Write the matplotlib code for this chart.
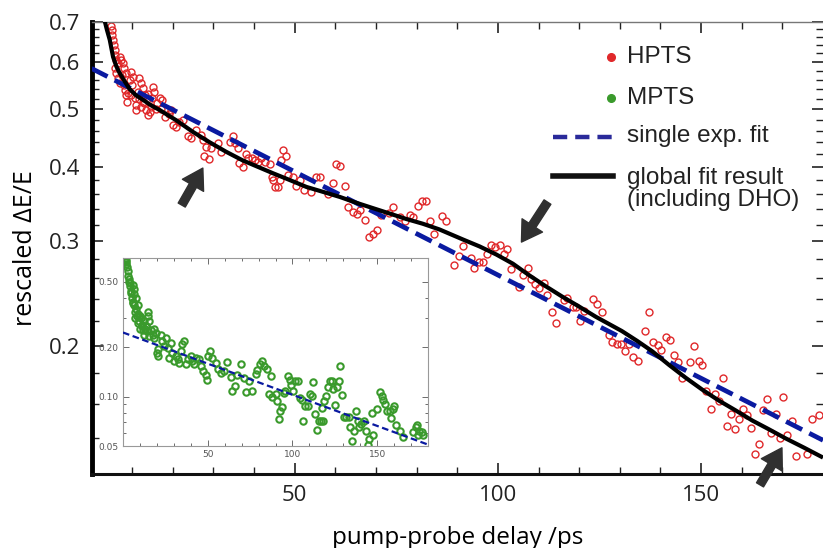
import numpy as np
import matplotlib
matplotlib.use("Agg")
import matplotlib.pyplot as plt
from matplotlib.lines import Line2D
from matplotlib.ticker import FixedLocator, FixedFormatter, NullFormatter

# HPTS data (main panel)
hpts_x = [4.7, 5.0, 5.1, 5.3, 5.5, 5.7, 5.9, 6.1, 6.5, 6.9, 7.3, 7.7, 7.9, 5.7, 6.1, 6.5,
          8.6, 9.8, 10.2, 9.4, 8.2, 8.6, 8.7, 9.8, 10.6, 10.9, 11.4, 11.8, 12.2, 12.7,
          13.1, 12.7, 12.2, 13.5, 13.9, 14.3, 14.7, 15.1, 15.3, 14.9, 16.8, 17.4, 15.9,
          18.2, 19.6, 20.0, 20.8, 22.5, 23.7, 24.5, 25.7, 27.0, 27.4, 28.2, 29.4, 27.8,
          28.9, 31.1, 31.9, 34.0, 34.8, 35.2, 36.0, 36.4, 37.3, 38.0, 38.5, 39.4, 40.2,
          41.0, 41.8, 42.6, 43.9, 44.3, 44.7, 45.1, 45.9, 46.3, 46.7, 47.1, 47.8, 48.4,
          49.6, 50.4, 51.2, 52.2, 54.1, 55.3, 56.3, 58.2, 59.4, 60.2, 61.2, 62.3, 63.1,
          64.3, 65.3, 66.1, 67.2, 68.3, 69.2, 70.2, 71.3, 73.2, 74.2, 75.8, 77.2, 78.3,
          79.2, 80.3, 81.4, 82.4, 83.3, 84.4, 86.3, 87.3, 89.3, 90.5, 91.4, 93.4, 94.2,
          95.3, 96.3, 97.2, 98.3, 99.4, 100.4, 101.4, 102.3, 103.2, 105.1, 106.1, 107.3,
          108.2, 109.2, 110.2, 111.4, 112.2, 113.3, 114.3, 116.3, 117.1, 118.4, 119.2,
          120.3, 121.3, 123.3, 124.3, 125.6, 127.4, 128.2, 129.3, 130.3, 131.3, 132.3,
          133.3, 134.4, 136.2, 137.2, 138.2, 139.3, 140.2, 141.3, 142.3, 143.4, 144.3,
          145.4, 147.3, 148.3, 149.4, 150.3, 151.3, 152.4, 153.4, 154.3, 155.4, 156.3,
          157.3, 158.3, 159.3, 160.3, 161.2, 162.4, 163.3, 164.3, 165.3, 166.3, 167.3,
          168.4, 169.3, 170.2, 171.2, 172.3, 173.3, 176.1, 177.2, 179.0,
          7.0, 7.5, 8.0, 9.0, 10.0, 11.0, 11.6, 13.0, 14.0, 16.2, 17.0, 19.0, 21.5]
hpts_y = [0.690, 0.679, 0.666, 0.653, 0.640, 0.628, 0.616, 0.605, 0.598, 0.612, 0.605,
          0.598, 0.587, 0.587, 0.575, 0.564, 0.575, 0.578, 0.567, 0.560, 0.538, 0.528,
          0.514, 0.528, 0.521, 0.508, 0.535, 0.563, 0.552, 0.542, 0.528, 0.514, 0.504,
          0.498, 0.488, 0.494, 0.504, 0.545, 0.535, 0.521, 0.521, 0.518, 0.501, 0.485,
          0.498, 0.470, 0.467, 0.479, 0.450, 0.447, 0.461, 0.452, 0.444, 0.432, 0.430,
          0.417, 0.413, 0.438, 0.424, 0.440, 0.450, 0.438, 0.430, 0.406, 0.400, 0.420,
          0.414, 0.414, 0.411, 0.408, 0.414, 0.408, 0.405, 0.384, 0.380, 0.370, 0.370,
          0.380, 0.411, 0.427, 0.417, 0.387, 0.384, 0.372, 0.380, 0.366, 0.363, 0.384,
          0.384, 0.360, 0.375, 0.404, 0.401, 0.371, 0.342, 0.336, 0.333, 0.339, 0.326,
          0.305, 0.309, 0.313, 0.332, 0.335, 0.343, 0.329, 0.324, 0.332, 0.329, 0.344,
          0.351, 0.351, 0.324, 0.308, 0.331, 0.325, 0.274, 0.283, 0.294, 0.281, 0.271,
          0.277, 0.277, 0.285, 0.296, 0.293, 0.296, 0.285, 0.291, 0.269, 0.251, 0.263,
          0.271, 0.259, 0.254, 0.250, 0.255, 0.244, 0.228, 0.219, 0.239, 0.241, 0.233,
          0.233, 0.220, 0.229, 0.240, 0.235, 0.228, 0.209, 0.203, 0.202, 0.202, 0.196,
          0.202, 0.192, 0.189, 0.212, 0.228, 0.203, 0.201, 0.197, 0.207, 0.205, 0.193,
          0.188, 0.177, 0.188, 0.200, 0.189, 0.186, 0.168, 0.157, 0.166, 0.162, 0.177,
          0.147, 0.154, 0.145, 0.151, 0.157, 0.153, 0.146, 0.132, 0.137, 0.156, 0.163,
          0.143, 0.154, 0.140, 0.164, 0.142, 0.150, 0.131, 0.132, 0.151, 0.153,
          0.552, 0.570, 0.548, 0.532, 0.548, 0.498, 0.520, 0.512, 0.530, 0.512, 0.500,
          0.490, 0.476]

# global fit result (including DHO)
glob_x = [2.9, 3.2, 3.8, 4.5, 4.9, 5.3, 6.1, 6.9, 8.2, 9.4, 11.0, 12.7, 14.7, 16.8,
          20.8, 24.9, 29.0, 33.1, 37.2, 40.9, 44.7, 48.8, 52.9, 57.0, 61.1, 65.2, 69.2,
          73.3, 77.4, 81.5, 85.6, 91.4, 95.5, 99.6, 103.7, 107.7, 111.8, 115.9, 120.0,
          124.1, 130.5, 134.3, 138.0, 142.1, 146.2, 150.3, 154.4, 158.5, 162.6, 166.7,
          170.8, 175.4, 180.0]
glob_y = [0.74, 0.705, 0.679, 0.653, 0.632, 0.612, 0.590, 0.575, 0.556, 0.540, 0.527,
          0.518, 0.507, 0.498, 0.479, 0.458, 0.440, 0.424, 0.410, 0.400, 0.390, 0.380,
          0.370, 0.363, 0.356, 0.348, 0.341, 0.334, 0.327, 0.321, 0.314, 0.302, 0.294,
          0.285, 0.275, 0.263, 0.252, 0.242, 0.233, 0.224, 0.212, 0.204, 0.196, 0.186,
          0.177, 0.169, 0.162, 0.156, 0.150, 0.145, 0.140, 0.135, 0.130]

# single exponential fit (straight on log axis)
sexp_x = [0.0, 180.0]
sexp_y = [0.585, 0.139]

# MPTS data (inset)
mpts_x = [1.2, 1.5, 1.8, 2.4, 2.7, 3.1, 3.7, 4.3, 4.7, 5.7, 6.3, 6.7, 7.6, 5.7, 6.7, 7.6,
          8.6, 8.6, 9.6, 9.6, 10.6, 11.0, 11.6, 12.2, 12.5, 13.5, 14.1, 14.5, 14.9, 15.5,
          15.5, 16.5, 17.5, 18.4, 18.4, 19.4, 20.0, 20.4, 20.8, 22.4, 23.3, 24.3, 25.3,
          26.3, 27.3, 28.2, 29.2, 30.2, 31.2, 32.2, 33.1, 34.1, 35.1, 36.1, 37.4, 38.1,
          40.0, 41.0, 42.0, 42.9, 44.9, 45.9, 47.5, 48.8, 49.4, 50.2, 51.4, 52.8, 54.7,
          56.1, 57.6, 59.6, 61.6, 63.5, 64.5, 65.9, 67.1, 69.4, 71.4, 72.4, 74.3, 76.3,
          78.2, 79.2, 80.8, 82.2, 83.5, 85.1, 86.1, 87.1, 88.1, 90.0, 91.0, 91.9, 92.9,
          93.9, 95.0, 95.9, 97.2, 98.4, 99.2, 100.4, 101.8, 103.1, 104.3, 105.7, 106.3,
          107.6, 109.0, 110.2, 111.6, 112.2, 113.1, 114.5, 115.5, 116.9, 118.0, 117.5,
          118.8, 120.0, 120.8, 122.0, 123.3, 123.9, 125.3, 126.3, 127.2, 128.2, 129.2,
          130.2, 131.8, 133.1, 134.1, 135.1, 136.1, 137.6, 138.4, 139.0, 140.4, 142.0,
          143.4, 144.3, 145.3, 146.9, 147.8, 149.8, 151.8, 152.8, 153.7, 154.7, 155.7,
          157.3, 158.1, 159.2, 160.2, 161.2, 163.5, 165.1, 171.4, 173.0, 173.7, 174.9,
          176.3, 177.2, 174.3,
          2.0, 3.4, 4.0, 5.0, 5.2, 6.0, 7.0, 7.2, 8.0, 9.0, 10.0, 10.2, 11.5, 12.8, 13.8]
mpts_y = [0.69, 0.68, 0.66, 0.62, 0.58, 0.54, 0.50, 0.47, 0.44, 0.48, 0.45, 0.42, 0.40,
          0.38, 0.36, 0.34, 0.36, 0.32, 0.31, 0.29, 0.30, 0.275, 0.256, 0.239, 0.29,
          0.27, 0.25, 0.33, 0.31, 0.29, 0.233, 0.256, 0.239, 0.26, 0.228, 0.244, 0.185,
          0.176, 0.194, 0.239, 0.218, 0.203, 0.228, 0.199, 0.172, 0.212, 0.185, 0.165,
          0.176, 0.169, 0.161, 0.189, 0.208, 0.219, 0.157, 0.169, 0.176, 0.165, 0.157,
          0.172, 0.169, 0.154, 0.143, 0.135, 0.126, 0.176, 0.189, 0.172, 0.161, 0.147,
          0.140, 0.143, 0.163, 0.131, 0.108, 0.116, 0.135, 0.159, 0.129, 0.106, 0.125,
          0.108, 0.137, 0.145, 0.157, 0.166, 0.154, 0.147, 0.104, 0.134, 0.099, 0.104,
          0.094, 0.073, 0.082, 0.086, 0.105, 0.108, 0.134, 0.127, 0.118, 0.108, 0.125,
          0.125, 0.098, 0.096, 0.071, 0.088, 0.088, 0.104, 0.101, 0.122, 0.078, 0.063,
          0.071, 0.071, 0.071, 0.085, 0.094, 0.101, 0.114, 0.125, 0.125, 0.112, 0.089,
          0.114, 0.125, 0.154, 0.103, 0.075, 0.075, 0.075, 0.065, 0.054, 0.062, 0.082,
          0.071, 0.065, 0.068, 0.071, 0.062, 0.051, 0.055, 0.080, 0.058, 0.084, 0.106,
          0.101, 0.095, 0.090, 0.082, 0.082, 0.074, 0.084, 0.088, 0.067, 0.062, 0.057,
          0.061, 0.065, 0.067, 0.062, 0.061, 0.058, 0.058,
          0.64, 0.52, 0.49, 0.43, 0.40, 0.37, 0.33, 0.30, 0.31, 0.28, 0.26, 0.31, 0.27,
          0.26, 0.27]

inset_fit_x = [0.0, 180.0]
inset_fit_y = [0.246, 0.051]

# arrows (head, tail) in data units
arrows = [((27.4, 0.398), (22.2, 0.345)),
          ((105.8, 0.299), (112.2, 0.349)),
          ((169.9, 0.135), (164.5, 0.117))]

red = "#e0282a"
green = "#3a9a2c"
navy = "#0a1aa0"

W, H = 823, 548
fig = plt.figure(figsize=(W / 100, H / 100), dpi=100)
ax = fig.add_axes([91.5 / W, 1 - 474 / H, (W - 91.5) / W, (474 - 22) / H])

ax.plot(hpts_x, hpts_y, "o", ms=5.0, mfc="none", mec=red, mew=1.0, zorder=2)
ax.plot(sexp_x, sexp_y, color=navy, lw=3.4, dashes=(3.8, 1.7), zorder=3)
ax.plot(glob_x, glob_y, color="black", lw=3.0, zorder=4, solid_capstyle="butt",
        solid_joinstyle="round")

ax.set_yscale("log")
ax.set_xlim(0, 180)
ax.set_ylim(0.122, 0.70)

ymaj = [0.2, 0.3, 0.4, 0.5, 0.6, 0.7]
ax.yaxis.set_major_locator(FixedLocator(ymaj))
ax.yaxis.set_major_formatter(FixedFormatter(["0.2", "0.3", "0.4", "0.5", "0.6", "0.7"]))
ymin = [v for v in np.round(np.arange(0.12, 0.70, 0.02), 2) if v not in (0.2, 0.3, 0.4, 0.5, 0.6)]
ax.yaxis.set_minor_locator(FixedLocator(ymin))
ax.yaxis.set_minor_formatter(NullFormatter())
ax.set_xticks([50, 100, 150])
ax.set_xticks(np.arange(10, 180, 10), minor=True)

ax.tick_params(which="both", direction="in", top=True, right=True, colors="#222222",
               labelsize=16, pad=8)
ax.tick_params(which="major", length=8, width=1.2)
ax.tick_params(which="minor", length=5, width=1.0)
for lab in ax.get_xticklabels() + ax.get_yticklabels():
    lab.set_fontfamily("Open Sans")

ax.spines["left"].set_linewidth(3.5)
ax.spines["left"].set_color("black")
ax.spines["bottom"].set_linewidth(2.2)
ax.spines["bottom"].set_color("#111111")
ax.spines["top"].set_linewidth(1.0)
ax.spines["top"].set_color("#777777")
ax.spines["right"].set_visible(False)

ax.set_xlabel("pump-probe delay /ps", fontsize=17.5, fontfamily="Open Sans", labelpad=14)
ax.set_ylabel("rescaled \u0394E/E", fontsize=18, fontfamily="Open Sans", labelpad=8)

for head, tail in arrows:
    ax.annotate("", xy=head, xytext=tail, annotation_clip=False,
                arrowprops=dict(arrowstyle="simple,head_length=1.1,head_width=1.35,tail_width=0.45",
                                color="#303030", mutation_scale=13, shrinkA=0, shrinkB=0),
                zorder=5)

# legend drawn by hand so markers sit at the right end of the handle
legend_rows = [("HPTS", 57), ("MPTS", 98), ("single exp. fit", 136),
               ("global fit result\n(including DHO)", 189)]
fig.add_artist(Line2D([611 / W], [1 - 57 / H], marker="o", ms=5.5, color=red, lw=0))
fig.add_artist(Line2D([611 / W], [1 - 98 / H], marker="o", ms=5.5, color=green, lw=0))
fig.add_artist(Line2D([553 / W, 613 / W], [1 - 137 / H] * 2, color="#2a2a9a", lw=3.2,
                      dashes=(3.2, 1.8)))
fig.add_artist(Line2D([553 / W, 613 / W], [1 - 176 / H] * 2, color="#111111", lw=4.0))
for label, yy in legend_rows:
    fig.text(627 / W, 1 - yy / H, label, fontsize=17.5, fontfamily="Liberation Sans",
             color="#222222", va="center", ha="left", linespacing=1.05)

# inset
ins = fig.add_axes([123 / W, 1 - 446 / H, (428 - 123) / W, (446 - 258) / H])
ins.plot(mpts_x, mpts_y, "o", ms=4.6, mfc="none", mec=green, mew=1.5, zorder=2)
ins.plot(inset_fit_x, inset_fit_y, color=navy, lw=1.6, dashes=(3.0, 1.6), zorder=3)
ins.set_yscale("log")
ins.set_xlim(0, 180)
ins.set_ylim(0.05, 0.70)
ins.yaxis.set_major_locator(FixedLocator([0.05, 0.1, 0.2, 0.5]))
ins.yaxis.set_major_formatter(FixedFormatter(["0.05", "0.10", "0.20", "0.50"]))
ins.yaxis.set_minor_locator(FixedLocator([0.06, 0.07, 0.08, 0.09, 0.3, 0.4]))
ins.yaxis.set_minor_formatter(NullFormatter())
ins.set_xticks([50, 100, 150])
ins.set_xticks(np.arange(10, 180, 10), minor=True)
ins.tick_params(which="both", direction="in", top=True, right=True, colors="#555555",
                labelsize=6.5, pad=3, width=0.6)
ins.tick_params(which="major", length=4)
ins.tick_params(which="minor", length=2.5)
for s in ins.spines.values():
    s.set_color("#999999")
    s.set_linewidth(0.8)

fig.savefig("out.png", dpi=100)
